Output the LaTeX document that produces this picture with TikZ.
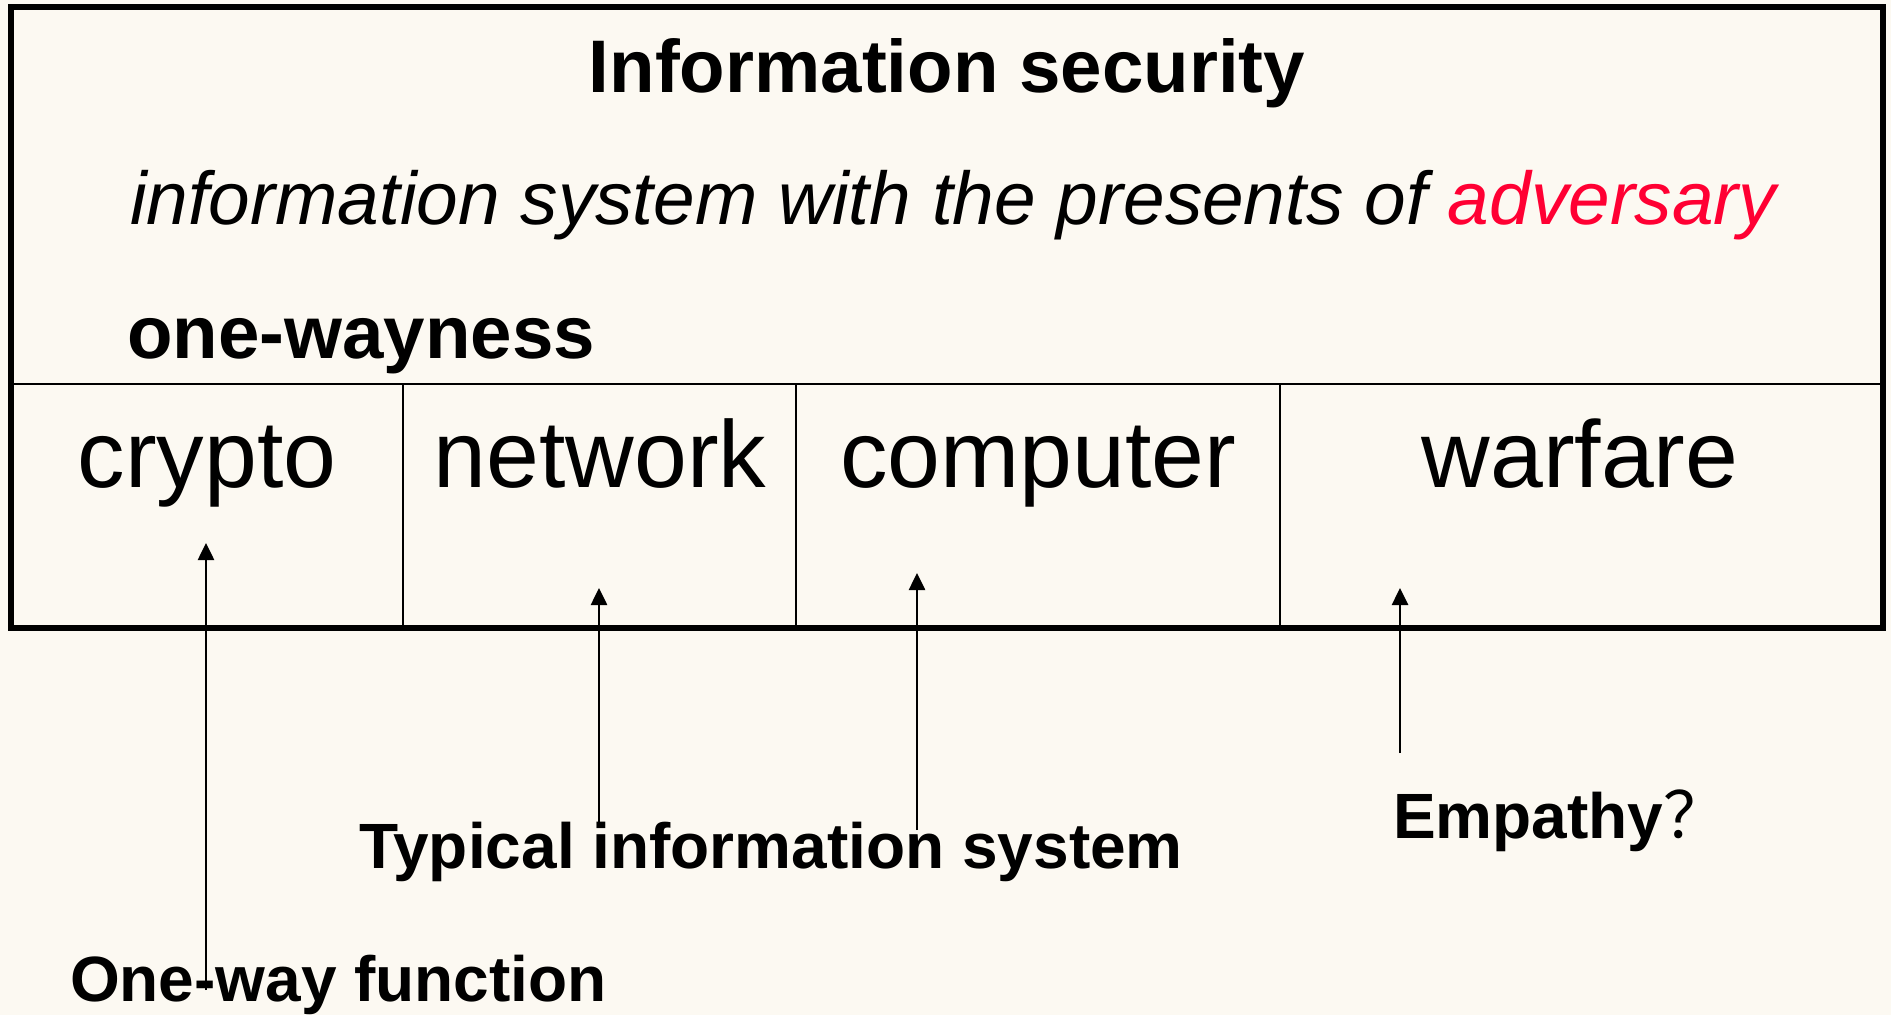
\documentclass[tikz,border=0pt]{standalone}
\usepackage{fontspec}
\setmainfont{Liberation Sans}
\newfontfamily\cjk{Noto Sans CJK SC}
\usetikzlibrary{arrows.meta}
\definecolor{bgc}{HTML}{FCF9F2}
\definecolor{advred}{HTML}{FF0033}
\tikzset{
  lbl/.style={inner sep=0pt, outer sep=0pt, anchor=base west},
  ctr/.style={inner sep=0pt, outer sep=0pt, anchor=base},
  arr/.style={line width=2.6pt, -{Triangle[width=16pt,length=17pt]}},
  frame/.style={line width=5.5pt},
  thin/.style={line width=2.4pt},
}
\begin{document}
\begin{tikzpicture}[x=1pt,y=-1pt]
\useasboundingbox[fill=bgc] (0,0) rectangle (1891,1015);
% frame
\draw[thin] (11,384) -- (1883,384);
\draw[thin] (403,384) -- (403,628);
\draw[thin] (796,384) -- (796,628);
\draw[thin] (1280,384) -- (1280,628);
\draw[frame] (11,7) rectangle (1883,628);
% header texts
\node[ctr] (title) at (947,92) {\fontsize{74.5}{80}\selectfont\bfseries Information security};
\node[lbl] (sub) at (130,224) {\fontsize{74.8}{80}\selectfont\itshape information system with the presents of \textcolor{advred}{adversary}};
\node[lbl] (oneway) at (127,358) {\fontsize{74.5}{80}\selectfont\bfseries one-wayness};
% cells
\node[ctr] (crypto) at (207,487) {\fontsize{95}{100}\selectfont crypto};
\node[ctr] (network) at (600,487) {\fontsize{95}{100}\selectfont network};
\node[ctr] (computer) at (1038,487) {\fontsize{95}{100}\selectfont computer};
\node[ctr] (warfare) at (1580,487) {\fontsize{95}{100}\selectfont warfare};
% bottom labels
\node[lbl] (typ) at (359,868) {\fontsize{64}{70}\selectfont\bfseries Typical information system};
\node[lbl] (emp) at (1393,838) {\fontsize{64}{70}\selectfont\bfseries Empathy{\cjk\mdseries ？}};
\node[lbl] (owf) at (70,1001) {\fontsize{64}{70}\selectfont\bfseries One-way function};
% arrow endpoints
\coordinate (c1) at (206,990);
\coordinate (c1t) at (206,543);
\coordinate (c2) at (599,824);
\coordinate (c2t) at (599,588);
\coordinate (c3) at (917,830);
\coordinate (c3t) at (917,573);
\coordinate (c4) at (1400,753);
\coordinate (c4t) at (1400,588);
\draw[arr] (c1) -- (c1t);
\draw[arr] (c2) -- (c2t);
\draw[arr] (c3) -- (c3t);
\draw[arr] (c4) -- (c4t);
\end{tikzpicture}
\end{document}
